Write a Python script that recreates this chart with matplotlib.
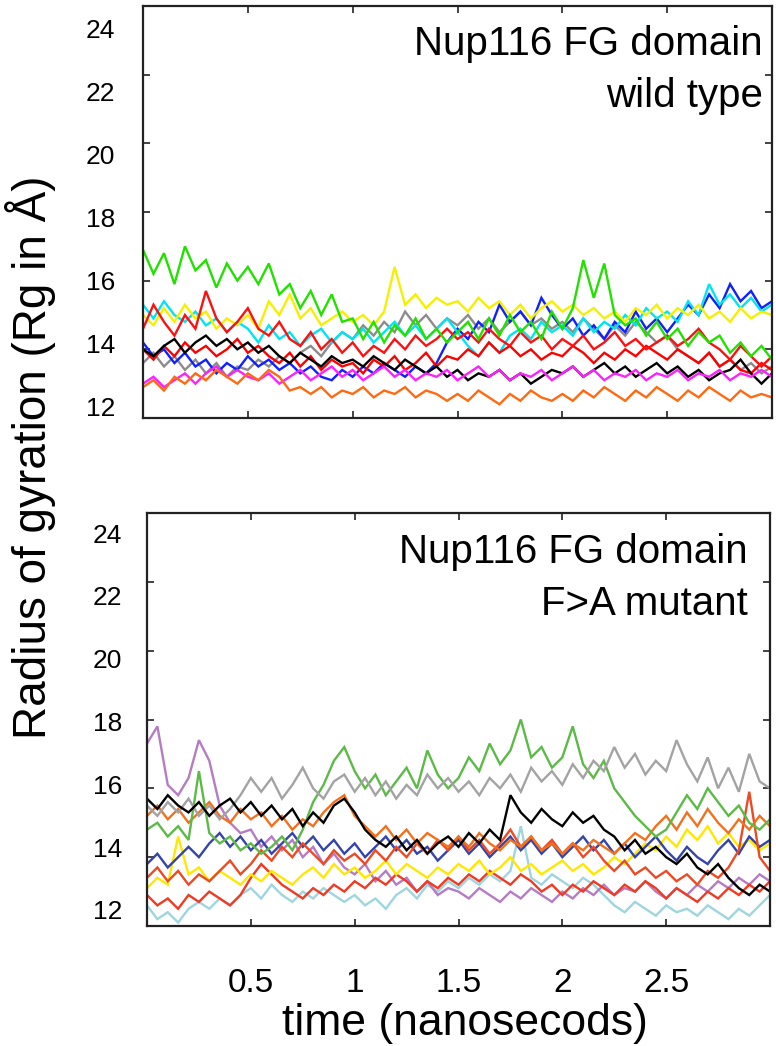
import numpy as np
import matplotlib
matplotlib.use("Agg")
import matplotlib.pyplot as plt

plt.rcParams['font.family'] = ['Liberation Sans', 'DejaVu Sans']

# ---------------- data ----------------
time_ns = np.round(np.arange(0, 3.0001, 0.05), 2)   # 61 sample times (ns)

# wild type (top panel), Rg in Angstrom
wt_green = [16.9, 16.2, 16.8, 15.9, 17.0, 16.3, 16.6, 15.8, 16.5, 16.0,
            16.4, 15.9, 16.5, 15.6, 15.9, 15.2, 15.7, 15.0, 15.6, 14.8,
            14.9, 14.3, 14.8, 14.2, 14.7, 14.4, 14.9, 14.3, 14.6, 14.2,
            14.5, 14.8, 14.3, 14.9, 14.4, 15.0, 14.5, 14.8, 14.3, 15.1,
            14.6, 15.2, 16.6, 15.5, 16.5, 15.0, 14.7, 14.9, 14.4, 14.8,
            14.3, 14.6, 14.1, 14.5, 14.2, 14.4, 13.9, 14.2, 13.8, 14.1,
            13.7]
wt_yellow = [15.0, 14.7, 15.2, 14.8, 15.3, 14.9, 15.1, 14.6, 14.9, 14.7,
             15.0, 14.6, 15.4, 15.0, 15.6, 14.9, 15.2, 14.7, 14.9, 15.1,
             14.8, 15.0, 14.7, 15.1, 16.4, 15.3, 15.6, 15.2, 15.5, 15.3,
             15.4, 15.1, 15.5, 15.2, 15.4, 15.0, 15.3, 14.9, 15.2, 15.4,
             15.1, 15.3, 15.0, 15.2, 14.9, 15.1, 14.8, 15.2, 15.0, 15.3,
             14.9, 15.2, 15.0, 15.3, 14.9, 15.1, 14.8, 15.2, 14.9, 15.1,
             15.0]
wt_cyan = [15.3, 14.9, 15.4, 15.0, 14.8, 15.1, 14.7, 14.9, 14.5, 14.8,
           14.6, 14.2, 14.7, 14.3, 14.5, 14.1, 14.4, 14.6, 14.2, 14.5,
           14.3, 14.6, 14.2, 14.5, 14.8, 14.4, 14.7, 14.3, 14.6, 14.9,
           14.5, 14.1, 13.8, 14.2, 13.9, 14.4, 14.6, 14.3, 14.8, 14.5,
           14.7, 14.4, 14.9, 14.5, 14.8, 14.6, 15.0, 14.7, 15.2, 14.9,
           15.1, 14.8, 15.4, 15.0, 15.9, 15.3, 15.6, 15.2, 15.5, 15.1,
           15.3]
wt_red1 = [14.6, 15.3, 14.8, 14.4, 15.0, 14.6, 15.7, 14.9, 14.5, 14.8,
           15.2, 14.6, 14.4, 14.8, 14.3, 14.1, 14.5, 14.0, 14.3, 13.9,
           14.2, 13.8, 14.1, 13.9, 14.3, 14.0, 14.4, 14.1, 14.3, 14.6,
           14.3, 14.5, 14.2, 14.6, 14.3, 14.1, 14.5, 14.2, 14.4, 14.0,
           14.3, 14.1, 14.4, 14.0, 14.2, 14.5, 14.1, 14.3, 14.0, 14.2,
           14.4, 14.1, 14.3, 14.6, 14.2, 14.0, 13.7, 14.1, 13.8, 13.5,
           13.8]
wt_red2 = [14.0, 13.7, 14.1, 13.8, 14.2, 13.9, 14.1, 13.8, 14.0, 14.3,
           13.9, 14.1, 13.8, 13.6, 13.9, 13.5, 13.8, 13.4, 13.7, 13.5,
           13.6, 13.3, 13.7, 13.5, 13.8, 13.4, 13.6, 13.9, 13.5, 13.8,
           13.7, 14.0, 13.8, 14.2, 13.9, 14.1, 13.8, 14.0, 13.7, 13.9,
           13.8, 14.1, 13.9, 13.6, 13.9, 13.7, 14.0, 13.8, 14.1, 13.9,
           13.7, 14.0, 13.8, 13.6, 13.9, 13.5, 13.7, 13.4, 13.3, 13.6,
           13.4]
wt_black = [14.0, 13.8, 14.1, 14.3, 13.9, 14.2, 14.4, 14.1, 14.3, 14.0,
            14.2, 13.9, 14.1, 13.8, 13.6, 13.9, 13.7, 13.5, 13.8, 13.6,
            13.7, 13.5, 13.8, 13.6, 13.4, 13.7, 13.5, 13.3, 13.5, 13.2,
            13.4, 13.1, 13.3, 13.2, 13.4, 13.1, 13.3, 13.0, 13.2, 13.4,
            13.3, 13.5, 13.2, 13.4, 13.6, 13.3, 13.5, 13.2, 13.4, 13.6,
            13.3, 13.5, 13.2, 13.4, 13.1, 13.3, 13.4, 13.7, 13.3, 13.0,
            13.3]
wt_blue = [14.2, 13.8, 14.0, 13.6, 13.9, 13.5, 13.7, 13.3, 13.6, 13.4,
           13.8, 13.5, 13.7, 13.4, 13.6, 13.3, 13.5, 13.2, 13.1, 13.4,
           13.2, 13.5, 13.3, 13.6, 13.4, 13.2, 13.5, 13.3, 13.6, 14.2,
           14.6, 14.3, 14.8, 14.5, 15.3, 14.8, 15.1, 14.7, 15.5, 15.0,
           14.6, 14.9, 14.4, 14.7, 14.3, 14.8, 14.5, 15.1, 14.6, 14.9,
           14.5, 14.9, 15.3, 15.0, 15.6, 15.2, 15.9, 15.4, 15.7, 15.2,
           15.4]
wt_grey = [13.6, 13.9, 13.5, 13.8, 13.4, 13.7, 13.3, 13.6, 13.2, 13.5,
           13.4, 13.7, 13.5, 13.8, 13.6, 13.9, 14.1, 13.8, 14.2, 14.5,
           14.3, 14.7, 14.4, 14.8, 14.5, 15.1, 14.7, 15.0, 14.6, 14.9,
           14.7, 15.0, 14.6, 14.9, 14.5, 14.8, 15.1, 14.7, 14.9, 14.6,
           14.8, 14.5, 14.9, 14.6, 14.3, 14.7, 14.4, 14.8, 14.5, 14.2,
           14.4, 14.0, 13.8, 13.6, 13.9, 13.5, 13.7, 13.4, 13.6, 13.3,
           13.5]
wt_magenta = [13.0, 13.2, 12.9, 13.1, 13.3, 13.0, 13.3, 13.5, 13.2, 13.4,
              13.2, 13.1, 13.3, 13.0, 13.2, 13.4, 13.1, 13.3, 13.5, 13.2,
              13.4, 13.1, 13.3, 13.5, 13.2, 13.4, 13.1, 13.3, 13.2, 13.4,
              13.1, 13.3, 13.5, 13.2, 13.4, 13.1, 13.3, 13.2, 13.4, 13.1,
              13.3, 13.5, 13.2, 13.4, 13.1, 13.3, 13.2, 13.4, 13.1, 13.3,
              13.2, 13.4, 13.1, 13.3, 13.2, 13.4, 13.1, 13.3, 13.2, 13.4,
              13.2]
wt_orange = [12.9, 13.1, 12.8, 13.2, 13.0, 13.3, 13.1, 13.4, 13.2, 13.0,
             13.3, 13.1, 13.4, 13.2, 12.8, 12.9, 12.7, 12.9, 12.6, 12.8,
             12.7, 12.9, 12.6, 12.8, 12.7, 12.9, 12.6, 12.8, 12.7, 12.5,
             12.7, 12.5, 12.8, 12.6, 12.4, 12.7, 12.5, 12.8, 12.6, 12.5,
             12.7, 12.5, 12.8, 12.6, 12.9, 12.7, 12.5, 12.8, 12.6, 12.9,
             12.7, 12.5, 12.8, 12.6, 12.9, 12.7, 12.5, 12.8, 12.6, 12.7,
             12.6]

# F>A mutant (bottom panel), Rg in Angstrom
mu_cyan = [12.6, 12.2, 12.4, 12.1, 12.5, 12.7, 12.5, 12.8, 12.6, 12.9,
           13.1, 12.8, 13.2, 12.9, 12.7, 13.0, 12.8, 13.1, 12.9, 12.7,
           12.9, 12.6, 12.8, 12.5, 12.9, 13.1, 12.8, 13.2, 13.0, 13.3,
           13.1, 13.4, 13.2, 13.5, 13.3, 13.6, 14.9, 13.4, 13.2, 13.5,
           13.3, 13.1, 13.4, 13.2, 12.9, 12.6, 12.4, 12.7, 12.5, 12.3,
           12.6, 12.4, 12.5, 12.3, 12.6, 12.4, 12.2, 12.5, 12.3, 12.6,
           12.9]
mu_purple = [17.3, 17.8, 16.1, 15.8, 16.3, 17.4, 16.8, 15.5, 15.0, 14.7,
             14.8, 14.3, 14.6, 14.2, 14.5, 14.0, 14.3, 13.8, 14.1, 13.7,
             13.5, 13.8, 13.3, 13.6, 13.2, 13.4, 13.0, 13.3, 12.9, 13.1,
             13.0, 12.8, 13.1, 12.9, 12.7, 13.0, 12.8, 13.1, 12.9, 12.7,
             13.0, 12.8, 13.1, 12.9, 13.2, 12.9, 13.1, 13.0, 13.3, 13.0,
             12.8, 13.1, 12.9, 13.2, 13.0, 13.3, 13.1, 13.4, 13.2, 13.5,
             13.3]
mu_redB = [12.9, 12.6, 12.8, 12.5, 12.9, 12.7, 13.0, 12.8, 12.6, 12.9,
           13.4, 13.8, 13.5, 13.2, 13.0, 12.8, 13.1, 12.9, 13.2, 13.0,
           13.3, 13.1, 13.4, 13.2, 13.5, 13.3, 13.0, 13.3, 13.1, 13.4,
           13.2, 13.5, 13.3, 13.6, 13.4, 13.2, 13.5, 13.3, 13.0, 13.2,
           12.9, 13.2, 13.0, 13.3, 13.1, 12.9, 13.2, 13.0, 13.3, 13.1,
           12.8, 13.1, 12.9, 12.7, 13.0, 12.8, 13.1, 12.9, 13.2, 13.0,
           13.3]
mu_yellow = [13.1, 13.4, 13.2, 14.6, 13.5, 13.7, 13.3, 13.6, 13.4, 13.2,
             13.5, 13.3, 13.6, 13.4, 13.2, 13.5, 13.7, 13.4, 13.8, 13.5,
             13.7, 13.4, 13.6, 13.9, 13.5, 13.8, 13.6, 13.4, 13.7, 13.5,
             13.8, 13.6, 13.9, 13.5, 13.7, 14.0, 13.6, 13.8, 13.5, 13.7,
             13.9, 13.6, 13.8, 13.5, 13.7, 14.0, 13.8, 14.1, 14.4, 14.2,
             14.6, 14.3, 14.8, 14.5, 14.9, 14.4, 14.7, 14.3, 14.5, 14.2,
             14.4]
mu_darkblue = [13.8, 14.1, 13.7, 14.0, 14.3, 14.0, 14.4, 14.7, 14.3, 14.6,
               14.2, 14.5, 14.1, 14.4, 14.7, 14.3, 14.6, 14.2, 14.5, 14.1,
               14.4, 14.0, 14.3, 14.6, 14.2, 14.5, 14.1, 14.3, 13.9, 14.2,
               14.5, 14.1, 14.4, 14.0, 14.3, 14.6, 14.2, 14.5, 14.1, 14.4,
               14.0, 14.3, 14.6, 14.2, 14.5, 14.1, 14.4, 14.0, 14.3, 14.6,
               14.2, 13.9, 14.3, 14.0, 13.8, 14.2, 14.5, 14.1, 14.6, 14.3,
               14.5]
mu_redA = [13.4, 13.7, 13.3, 13.6, 13.2, 13.5, 13.3, 13.6, 13.9, 13.5,
           13.8, 14.2, 13.9, 14.3, 14.0, 14.4, 14.1, 13.8, 14.2, 13.9,
           14.1, 13.8, 14.2, 13.9, 14.3, 14.0, 14.4, 14.1, 14.5, 14.2,
           14.6, 14.2, 14.5, 14.1, 14.4, 14.8, 14.3, 14.6, 14.2, 14.5,
           14.1, 14.4, 14.0, 14.3, 13.9, 13.6, 13.9, 13.5, 13.7, 13.4,
           13.6, 13.3, 13.5, 13.2, 13.6, 13.4, 13.7, 14.2, 15.9, 14.0,
           13.6]
mu_orange = [15.2, 15.5, 15.1, 15.4, 15.0, 15.3, 15.6, 15.2, 15.0, 15.4,
             15.1, 15.3, 14.9, 15.2, 14.8, 15.1, 14.9, 15.3, 15.6, 15.8,
             15.2, 14.9, 14.6, 14.9, 14.5, 14.8, 14.4, 14.7, 14.5, 14.3,
             14.6, 14.3, 14.7, 14.4, 14.2, 14.5, 14.3, 14.6, 14.2, 14.4,
             14.1, 14.4, 14.2, 14.5, 14.3, 14.1, 14.4, 14.7, 14.5, 14.9,
             15.2, 14.8, 15.3, 14.9, 15.4, 15.0, 14.7, 15.1, 14.8, 15.2,
             14.9]
mu_green = [14.8, 15.0, 14.6, 14.9, 14.5, 16.5, 14.7, 14.4, 14.6, 14.2,
            14.4, 14.1, 14.3, 14.6, 14.2, 14.8, 15.6, 16.1, 16.8, 17.2,
            16.5, 16.0, 16.4, 15.8, 16.2, 16.6, 16.0, 17.1, 16.4, 16.0,
            16.3, 16.9, 16.5, 17.3, 16.7, 17.1, 18.0, 16.9, 17.2, 16.6,
            16.9, 17.8, 16.7, 16.3, 16.8, 16.0, 15.6, 15.2, 14.9, 14.6,
            14.8, 15.3, 15.8, 15.4, 16.0, 15.6, 15.2, 15.5, 15.0, 14.8,
            15.1]
mu_grey = [15.5, 15.2, 15.6, 15.3, 15.7, 15.2, 15.5, 15.1, 15.4, 15.8,
           16.3, 15.9, 16.3, 15.7, 16.1, 16.6, 16.0, 15.7, 16.2, 16.4,
           15.9, 16.3, 15.8, 16.2, 15.7, 16.1, 15.8, 16.4, 16.0, 16.3,
           15.9, 16.2, 15.8, 16.3, 16.0, 16.4, 15.9, 16.6, 16.2, 16.5,
           16.1, 16.7, 16.3, 16.8, 16.5, 17.2, 16.6, 17.0, 16.4, 16.8,
           16.5, 17.4, 16.7, 16.2, 16.9, 16.0, 16.6, 15.9, 17.0, 16.2,
           16.0]
mu_black = [15.7, 15.4, 15.8, 15.5, 15.3, 15.6, 15.2, 15.5, 15.7, 15.3,
            15.6, 15.2, 15.5, 15.1, 15.4, 14.9, 15.3, 15.0, 15.5, 15.7,
            15.3, 14.8, 14.5, 14.3, 14.6, 14.2, 14.5, 14.1, 14.4, 14.6,
            14.3, 14.7, 14.4, 14.8, 14.5, 15.8, 15.3, 15.0, 15.4, 15.1,
            14.9, 15.3, 15.0, 15.2, 14.8, 14.6, 14.2, 14.5, 14.1, 14.3,
            14.0, 13.8, 14.1, 13.7, 13.5, 13.8, 13.4, 13.1, 12.9, 13.2,
            13.0]

wt_series = [(wt_grey, '#8c8c8c'), (wt_blue, '#1020ff'), (wt_cyan, '#00e5f0'),
             (wt_yellow, '#f5f000'), (wt_red2, '#ff0000'), (wt_black, '#000000'),
             (wt_red1, '#ff1010'), (wt_green, '#22e000'), (wt_magenta, '#ff20ff'),
             (wt_orange, '#ff6a10')]
mu_series = [(mu_cyan, '#9fd6de'), (mu_purple, '#b57cc4'), (mu_redB, '#f03a22'),
             (mu_yellow, '#ffe800'), (mu_darkblue, '#3444a8'), (mu_redA, '#ec4a24'),
             (mu_orange, '#f2711e'), (mu_green, '#5cba46'), (mu_grey, '#a3a3a3'),
             (mu_black, '#000000')]

panel_titles = [("Nup116 FG domain", "wild type"), ("Nup116 FG domain", "F>A mutant")]
y_ticks = [12, 14, 16, 18, 20, 22, 24]
x_ticks = [0.5, 1, 1.5, 2, 2.5]
x_ticklabels = ["0.5", "1", "1.5", "2", "2.5"]

# ---------------- figure ----------------
W, H = 776, 1046
fig = plt.figure(figsize=(W / 100, H / 100), dpi=100)


def rect(l, t, r, b):
    return [l / W, 1 - b / H, (r - l) / W, (b - t) / H]


panels = [
    dict(rect=rect(143, 6, 772, 418), series=wt_series, lbl_lim=(11.635, 24.70),
         lbl_pad=20, title=panel_titles[0], tx=763, tb=(55, 107)),
    dict(rect=rect(147, 513, 770, 926), series=mu_series, lbl_lim=(11.49, 24.64),
         lbl_pad=18, title=panel_titles[1], tx=748, tb=(563, 615)),
]

for i, p in enumerate(panels):
    ax = fig.add_axes(p['rect'])
    for vals, col in p['series']:
        ax.plot(time_ns, vals, color=col, lw=1.7, solid_joinstyle='miter')
    ax.set_xlim(0, 3.0)
    ax.set_ylim(12, 24)
    ax.set_yticks(y_ticks)
    ax.set_yticklabels([])
    ax.set_xticks(x_ticks)
    if i == 1:
        ax.set_xticklabels(x_ticklabels, fontsize=24)
    else:
        ax.set_xticklabels([])
    ax.tick_params(direction='in', top=True, right=True, length=5, width=1.2,
                   color='#222222', pad=30)
    for s in ax.spines.values():
        s.set_linewidth(1.6)
        s.set_color('#222222')

    # tick label layer (labels sit slightly compressed relative to ticks)
    axl = fig.add_axes(p['rect'], frameon=False)
    axl.patch.set_visible(False)
    axl.set_ylim(*p['lbl_lim'])
    axl.set_yticks(y_ticks)
    axl.set_yticklabels([str(v) for v in y_ticks], fontsize=19)
    axl.set_xticks([])
    axl.tick_params(axis='y', length=0, pad=p['lbl_pad'])

    l1, l2 = p['title']
    fig.text(p['tx'] / W, 1 - p['tb'][0] / H, l1, ha='right', va='baseline', fontsize=29)
    fig.text(p['tx'] / W, 1 - p['tb'][1] / H, l2, ha='right', va='baseline', fontsize=29)

fig.text(31 / W, 1 - 457 / H, "Radius of gyration (Rg in Å)", rotation=90,
         ha='center', va='center', fontsize=33)
fig.text(465 / W, 1 - 1035 / H, "time (nanosecods)", ha='center', va='baseline', fontsize=32)

fig.savefig("out.png", dpi=100)
